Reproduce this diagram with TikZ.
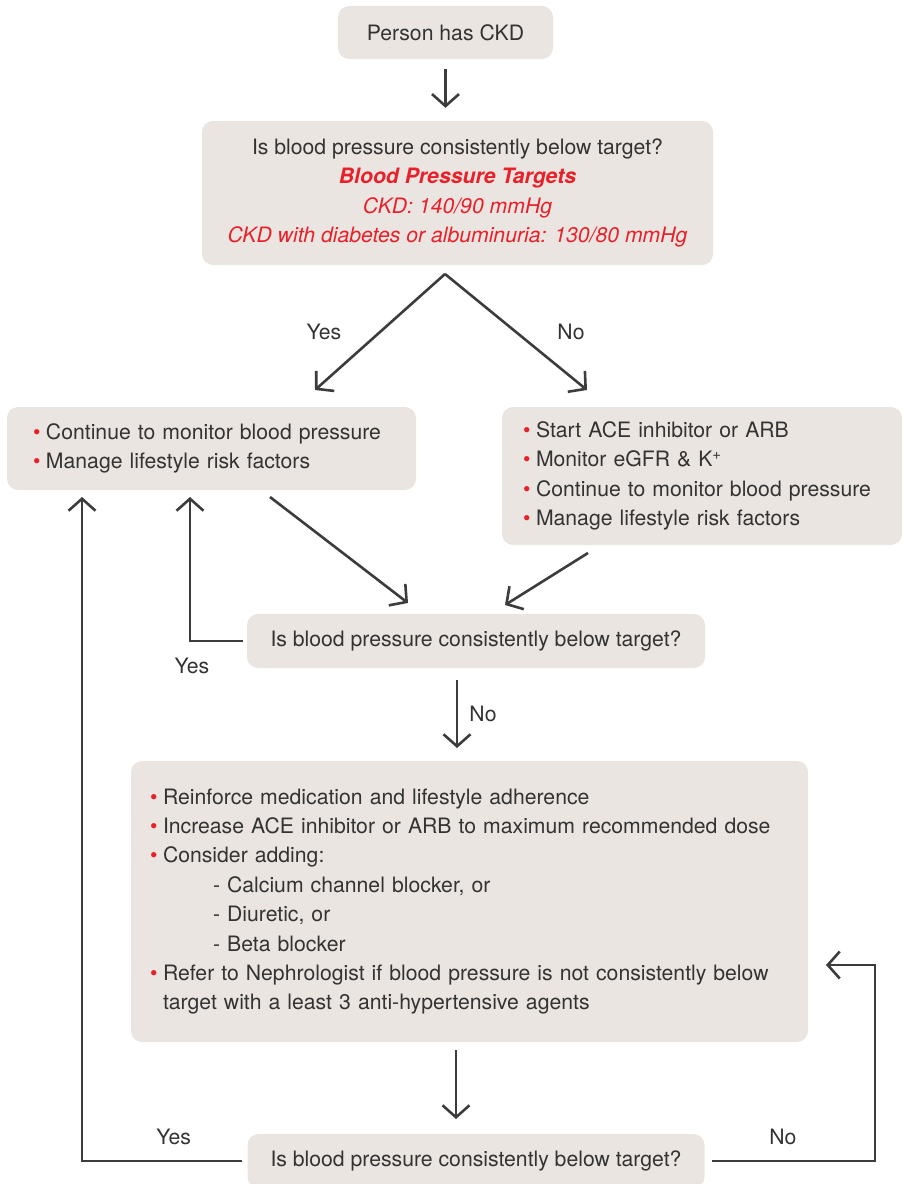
\documentclass[tikz,border=0pt]{standalone}
\usepackage{fontspec}
\setmainfont{TeX Gyre Heros}
\usetikzlibrary{arrows.meta}
\definecolor{ckdbox}{HTML}{EAE5E1}
\definecolor{ckdred}{HTML}{E8202A}
\definecolor{ckdtext}{HTML}{333333}
\definecolor{ckdline}{HTML}{3C3C3C}
\newcommand\bul{\makebox[13pt][l]{\textcolor{ckdred}{\textbullet}}}

\begin{document}
\begin{tikzpicture}[
			     x=1pt, y=-1pt,
			     >={Straight Barb[length=12pt,width=27pt]},
			     box/.style={fill=ckdbox, rounded corners=11pt, text=ckdtext, font=\fontsize{21.2}{29.4}\selectfont},
			     flow/.style={->, draw=ckdline, line width=2.6pt},
			     lab/.style={text=ckdtext, font=\fontsize{21.2}{29.4}\selectfont}
			     ]
\useasboundingbox (0,0) rectangle (906,1184);
% boxes
\node[box, minimum width=215pt, minimum height=53pt] (ckd) at (445.5,32.5) {Person has CKD};
\node[box, minimum width=511pt, minimum height=144pt, align=center] (qone) at (457.5,193) {Is blood pressure consistently below target?\\
  {\color{ckdred}\bfseries\itshape Blood Pressure Targets}\\
  {\color{ckdred}\itshape CKD: 140/90 mmHg}\\
  {\color{ckdred}\itshape CKD with diabetes or albuminuria: 130/80 mmHg}};
\node[box, minimum width=409pt, minimum height=83pt, inner xsep=26pt, text width=357pt, align=left] (mon) at (211.5,448.5) {\bul Continue to monitor blood pressure\\
  \bul Manage lifestyle risk factors};
\node[box, minimum width=400pt, minimum height=138pt, inner xsep=21pt, text width=358pt, align=left] (ace) at (702,476) {\bul Start ACE inhibitor or ARB\\
  \bul Monitor eGFR \& K\textsuperscript{+}\\
  \bul Continue to monitor blood pressure\\
  \bul Manage lifestyle risk factors};
\node[box, minimum width=458pt, minimum height=54pt] (qtwo) at (476,641) {Is blood pressure consistently below target?};
\node[box, minimum width=677pt, minimum height=281pt, inner xsep=19pt, text width=639pt, align=left] (boost) at (469.5,901.5) {\bul Reinforce medication and lifestyle adherence\\
  \bul Increase ACE inhibitor or ARB to maximum recommended dose\\
  \bul Consider adding:\\
  \hspace*{63pt}- Calcium channel blocker, or\\
  \hspace*{63pt}- Diuretic, or\\
  \hspace*{63pt}- Beta blocker\\
  \bul Refer to Nephrologist if blood pressure is not consistently below\\
  \hspace*{13pt}target with a least 3 anti-hypertensive agents};
\node[box, minimum width=457pt, minimum height=54pt] (qthree) at (476,1161) {Is blood pressure consistently below target?};
% free ends
\coordinate (apex) at (445,274);
\coordinate (yestip) at (315,390);
\coordinate (notip) at (587,390);
\coordinate (monout) at (270,497);
\coordinate (aceout) at (588,553);
\coordinate (qtwoleft) at (408,603);
\coordinate (qtworight) at (505,605);
\coordinate (yesup) at (190,497);
\coordinate (loopup) at (82,497);
\coordinate (noback) at (826,965);
% connectors
\path (ckd.south) edge[flow, shorten <=10pt, shorten >=13pt] (ckd.south |- qone.north);
\path (apex) edge[flow] node[lab, midway, xshift=-56pt] (yesone) {Yes} (yestip);
\path (apex) edge[flow] node[lab, midway, xshift=55pt] (noone) {No} (notip);
\path (monout) edge[flow] (qtwoleft);
\path (aceout) edge[flow] (qtworight);
\draw[flow, shorten <=4pt] (qtwo.west) -- (qtwo.west -| yesup) node[lab, yshift=-25pt, xshift=2pt] (yestwo) {Yes} -- (yesup);
\path (qtwo.south -| 457,0) edge[flow, shorten <=12pt, shorten >=12pt] node[lab, midway, xshift=26pt] (notwo) {No} (457,760);
\path (boost.south -| 456,0) edge[flow, shorten <=8pt, shorten >=15pt] (456,1134);
\draw[flow, shorten <=5pt] (qthree.west) -- node[lab, midway, yshift=24pt, xshift=9pt] (yesthree) {Yes} (qthree.west -| loopup) -- (loopup);
\draw[flow, shorten <=7pt] (qthree.east) -- node[lab, midway, yshift=24pt, xshift=-7pt] (nothree) {No} (qthree.east -| 875,0) -- (875,965) -- (noback);
\end{tikzpicture}
\end{document}
